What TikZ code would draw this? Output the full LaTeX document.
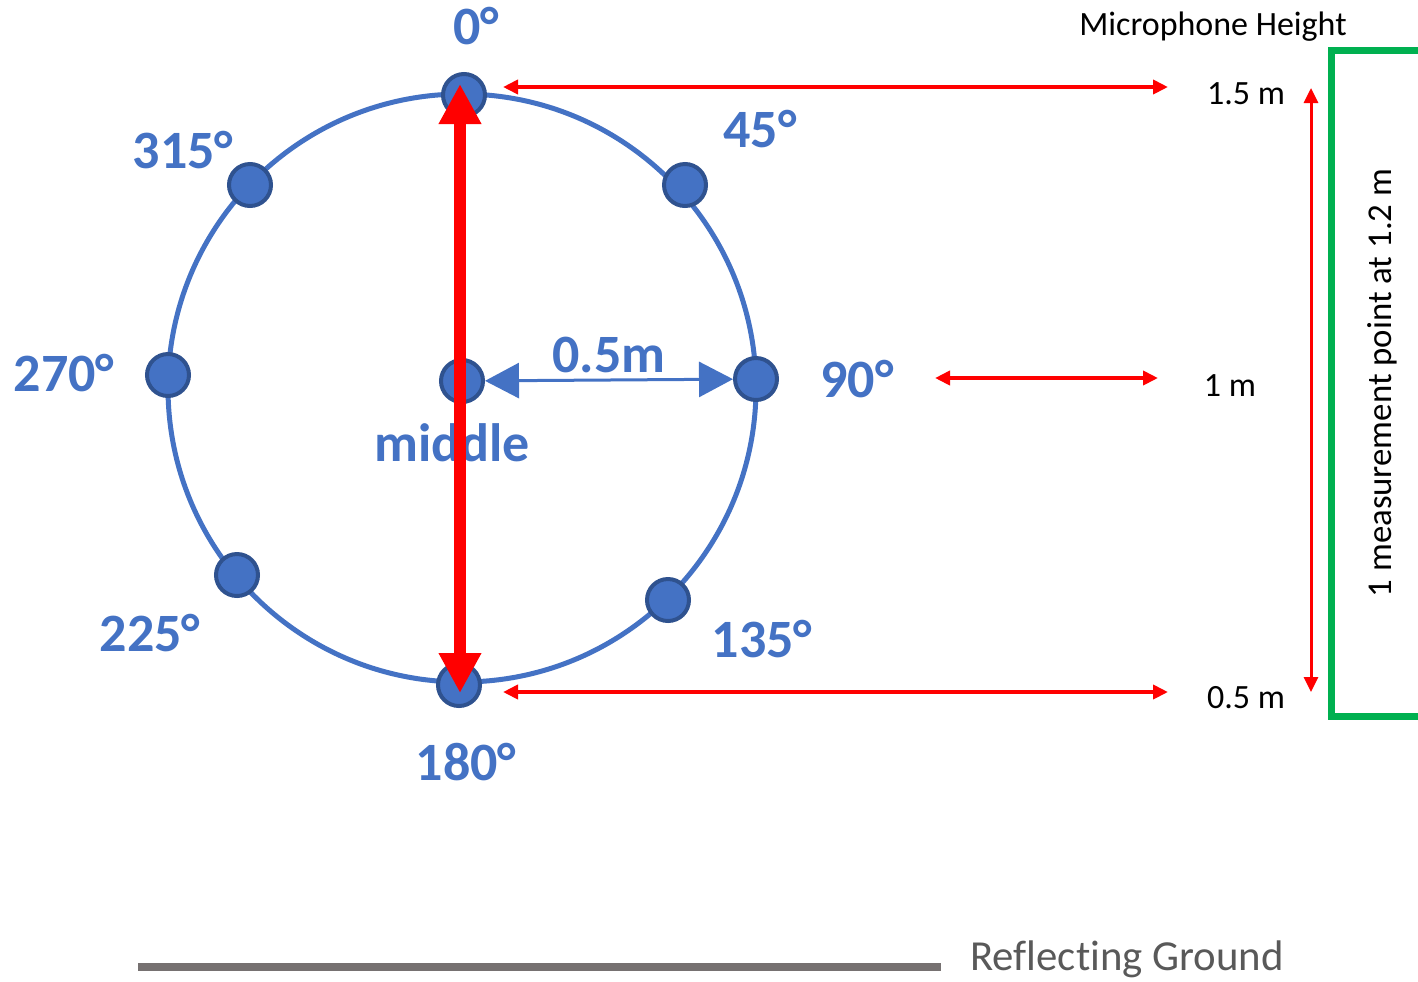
\documentclass[tikz,border=0pt]{standalone}
\usepackage{fontspec}
\setmainfont{Carlito}[Ligatures=NoCommon]
\usetikzlibrary{arrows.meta,positioning}

\definecolor{ptblue}{RGB}{68,114,196}
\definecolor{ptedge}{RGB}{47,82,143}
\definecolor{ptred}{RGB}{255,0,0}
\definecolor{ptgreen}{RGB}{0,176,80}
\definecolor{ptgray}{RGB}{118,113,113}
\definecolor{pttext}{RGB}{89,89,89}

\begin{document}
\begin{tikzpicture}[
    x=0.5pt,
    y=-0.5pt,
    ring/.style={ptblue, line width=2.5pt},
    dot/.style={circle, fill=ptblue, draw=ptedge, line width=2pt, minimum size=21pt, inner sep=0pt},
    ang/.style={ptblue, font=\fontsize{27}{31}\selectfont\bfseries, anchor=base},
    lab/.style={font=\fontsize{17}{20}\selectfont, anchor=base},
    span/.style={ptblue, line width=1.5pt, {Triangle[length=17pt,width=17.5pt]}-{Triangle[length=17pt,width=17.5pt]}},
    axisarrow/.style={ptred, line width=6pt, {Triangle[length=20pt,width=20pt]}-{Triangle[length=20pt,width=20pt]}},
    hgt/.style={ptred, line width=2pt, {Triangle[length=7.5pt,width=7pt]}-{Triangle[length=7.5pt,width=7pt]}},
    frame/.style={ptgreen, line width=3.5pt},
    ground/.style={ptgray, line width=4pt}
  ]
    \useasboundingbox (0,0) rectangle (1418,981);
    \draw[ring] (462,388) circle [radius=294];
    \foreach \n/\x/\y in {0/464/95, 45/685/185, 90/756/379, 135/668/600,
                          180/459/685, 225/237/575, 270/168/375, 315/250/185} {
      \node[dot] (p\n) at (\x,\y) {};
    }
    \node[dot] (mid) at (462,381) {};
    \foreach \n/\x/\y in {0/476/44, 45/760/147, 90/857/397, 135/762/657,
                          180/466/780, 225/150/651, 270/64/391, 315/183/168} {
      \node[ang] (l\n) at (\x,\y) {\n°};
    }
    \node[ang] (lmid) at (452,461) {middle};
    \draw[span] (mid) -- (p90) node[ang, midway, above=4pt, anchor=base] (d05) {0.5m};
    \coordinate (tip0) at (460,84);
    \coordinate (tip180) at (460,693);
    \draw[axisarrow] (tip180) -- (tip0);
    % heights
    \node[lab] (mic) at (1213,35) {Microphone Height};
    \node[lab] (h15) at (1246,104) {1.5 m};
    \node[lab] (h10) at (1230,396) {1 m};
    \node[lab] (h05) at (1246,708) {0.5 m};
    \coordinate (a0) at (503,87);
    \coordinate (b0) at (1168,87);
    \coordinate (a90) at (935,378);
    \coordinate (b90) at (1158,378);
    \coordinate (a180) at (503,692);
    \coordinate (b180) at (1168,692);
    \draw[hgt] (a0) -- (b0);
    \draw[hgt] (a90) -- (b90);
    \draw[hgt] (a180) -- (b180);
    \coordinate (up) at (1311,88);
    \coordinate (dn) at (1311,692);
    \draw[hgt, line width=1.5pt] (dn) -- (up);
    \draw[frame] (1418,50) -| (1331,716) -- (1418,716);
    \node[lab, anchor=center, rotate=90, font=\fontsize{17.4}{20}\selectfont] (pt) at (1382,383) {1 measurement point at 1.2 m};
    % ground
    \draw[ground] (138,967) -- (941,967);
    \node[lab, pttext, font=\fontsize{21.4}{25}\selectfont] (rg) at (1127,970) {Reflecting Ground};
  \end{tikzpicture}
\end{document}
